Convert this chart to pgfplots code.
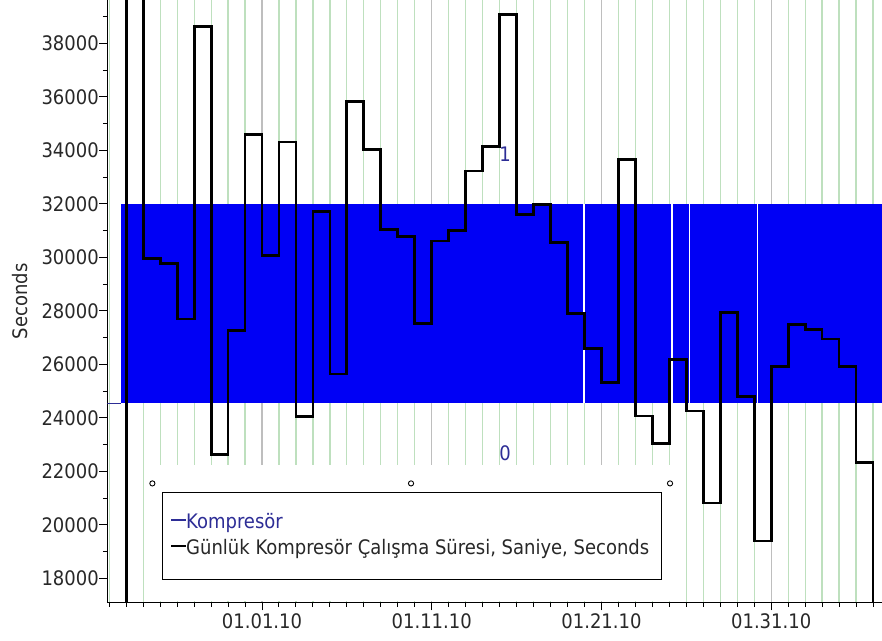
\documentclass[border=0pt]{standalone}
\usepackage{pgfplots}
\usepackage{pgfplotstable}
\pgfplotsset{compat=1.18}
\usepackage{fontspec}
\IfFontExistsTF{DejaVu Sans Condensed}{\setmainfont{DejaVu Sans Condensed}}{\setmainfont[FakeStretch=0.9]{DejaVu Sans}}
\definecolor{kblue}{RGB}{0,0,245}
\definecolor{knavy}{RGB}{45,45,150}
\definecolor{gridgreen}{RGB}{190,224,190}
\definecolor{gridgray}{RGB}{190,190,190}
\definecolor{ticktext}{RGB}{40,40,40}

% day index: 0 = 01.01.10
\pgfplotstableread{
d v
-9.5 10000
-8 45000
-7 29970
-6 29780
-5 27700
-4 38640
-3 22620
-2 27280
-1 34600
0 30070
1 34310
2 24040
3 31700
4 25640
5 35830
6 34030
7 31040
8 30770
9 27530
10 30610
11 31010
12 33230
13 34130
14 39070
15 31590
16 31980
17 30550
18 27890
19 26580
20 25310
21 33660
22 24070
23 23030
24 26190
25 24260
26 20820
27 27930
28 24800
29 19400
30 25930
31 27500
32 27300
33 26950
34 25930
35 22330
36 10000
37.5 10000
}\steptable

\newcommand{\cf}{\fontsize{20bp}{24bp}\selectfont}

\begin{document}
\begin{tikzpicture}
\begin{axis}[name=ax, scale only axis, width=774.7bp, height=602.5bp,
  xmin=-9.116, xmax=36.53, ymin=17100, ymax=39620,
  axis x line*=bottom, axis y line*=left,
  axis line style={-, line width=1.2bp, black},
  xtick={0,10,20,30}, xticklabels={01.01.10,01.11.10,01.21.10,01.31.10},
  minor xtick={-9,...,36},
  ytick={18000,20000,...,38000}, minor ytick={17000,19000,...,39000},
  scaled y ticks=false,
  yticklabel={\pgfmathprintnumber[fixed,precision=0,1000 sep={}]{\tick}},
  tick align=outside, major tick length=8bp, minor tick length=4.5bp,
  every tick/.style={black, line width=1bp},
  xmajorgrids, xminorgrids,
  major x grid style={gridgray, line width=1.2bp},
  minor x grid style={gridgreen, line width=1.2bp},
  tick label style={font=\cf, text=ticktext},
  yticklabel style={xshift=3bp},
  /pgf/number format/assume math mode=true, /pgf/number format/1000 sep={},
  ylabel={Seconds},
  every axis y label/.style={at={(axis description cs:-0.1123,0.5)}, rotate=90, anchor=center, font=\cf, text=ticktext},
]
% legend background hiding the grid
\addplot[fill=white, draw=none] coordinates {(-6.3,17150) (-6.3,22235) (24.4,22235) (24.4,17150)} -- cycle;
% Kompresor state band
\addplot[fill=kblue, draw=none] coordinates {(-8.33,24550) (-8.33,32000) (37,32000) (37,24550)} -- cycle;
\addplot[knavy, line width=1bp] coordinates {(-9.2,24550) (-8.33,24550)};
\addplot[white, line width=1.3bp] coordinates {(18.98,24550) (18.98,32000)};
\addplot[white, line width=1.3bp] coordinates {(24.15,24550) (24.15,32000)};
\addplot[white, line width=1.3bp] coordinates {(25.2,24550) (25.2,32000)};
\addplot[white, line width=1.3bp] coordinates {(29.2,24550) (29.2,32000)};
% daily run time
\addplot[const plot, black, line width=2.8bp, line join=miter] table[x=d, y=v] {\steptable};
% legend box and handles
\addplot[black, line width=1.1bp, fill=white] coordinates {(-5.875,17963) (-5.875,21215) (23.53,21215) (23.53,17963)} -- cycle;
\addplot[only marks, mark=*, mark size=2.6bp, mark options={draw=black, fill=white, line width=0.9bp}] coordinates {(-6.46,21551) (8.78,21551) (24.04,21551)};
\node[anchor=base west, inner sep=0, font=\cf, text=knavy] at (axis cs:-5.36,19880) {\rule[6.8bp]{15bp}{2.6bp}Kompresör};
\node[anchor=base west, inner sep=0, font=\cf, text=ticktext] at (axis cs:-5.36,18908) {\textcolor{black}{\rule[6.8bp]{15bp}{2.6bp}}Günlük Kompresör Çalışma Süresi, Saniye, Seconds};
\node[anchor=base, inner sep=0, font=\cf, text=knavy] at (axis cs:14.32,33600) {1};
\node[anchor=base, inner sep=0, font=\cf, text=knavy] at (axis cs:14.32,22422) {0};
\end{axis}
\pgfresetboundingbox
\path[use as bounding box] ([shift={(-107.3bp,-38.5bp)}]ax.south west) rectangle (ax.north east);
\end{tikzpicture}
\end{document}
